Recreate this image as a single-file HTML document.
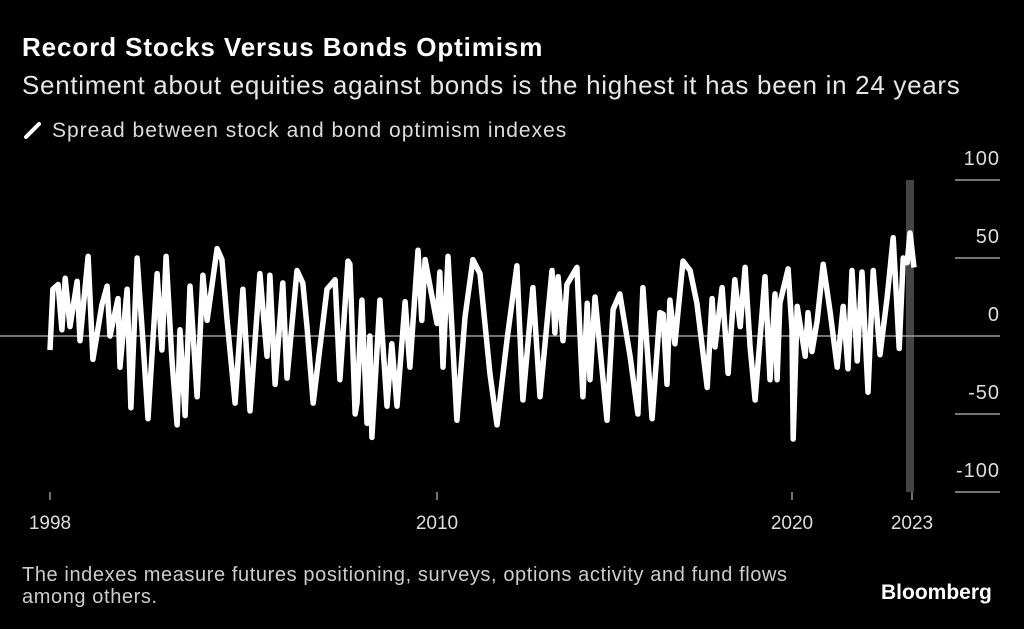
<!DOCTYPE html>
<html><head><meta charset="utf-8"><style>
html,body{margin:0;padding:0;background:#000;}
body{width:1024px;height:629px;overflow:hidden;position:relative;font-family:"Liberation Sans",sans-serif;color:#fff;}
.t{position:absolute;white-space:nowrap;}
</style></head><body>
<div class="t" style="left:22px;top:32px;font-size:26px;font-weight:bold;letter-spacing:0.9px;">Record Stocks Versus Bonds Optimism</div>
<div class="t" style="left:22px;top:70px;font-size:26px;letter-spacing:0.7px;color:#e6e6e6;">Sentiment about equities against bonds is the highest it has been in 24 years</div>
<div class="t" style="left:22px;top:119px;font-size:21px;letter-spacing:1px;color:#ddd;">
<svg width="22" height="20" style="vertical-align:-3px;margin-right:8px"><line x1="4" y1="17" x2="17" y2="4" stroke="#fff" stroke-width="4" stroke-linecap="round"/></svg>Spread between stock and bond optimism indexes</div>
<svg id="chart" width="1024" height="629" style="position:absolute;left:0;top:0"></svg>
<div class="t" style="left:22px;top:564px;font-size:20px;letter-spacing:0.6px;color:#ccc;line-height:22px;">The indexes measure futures positioning, surveys, options activity and fund flows<br>among others.</div>
<div class="t" style="left:881px;top:581px;font-size:21px;font-weight:bold;">Bloomberg</div>
<script>
const years=[1998.00,1998.09,1998.25,1998.37,1998.47,1998.62,1998.84,1998.93,1999.18,1999.33,1999.61,1999.77,1999.86,2000.11,2000.17,2000.39,2000.51,2000.70,2000.88,2001.04,2001.32,2001.47,2001.60,2001.78,2001.94,2002.03,2002.19,2002.34,2002.56,2002.74,2002.87,2003.18,2003.33,2003.49,2003.74,2003.98,2004.20,2004.51,2004.73,2004.82,2004.98,2005.22,2005.35,2005.66,2005.84,2005.97,2006.16,2006.59,2006.84,2006.99,2007.24,2007.30,2007.46,2007.52,2007.67,2007.83,2007.92,2007.98,2008.23,2008.45,2008.60,2008.76,2009.01,2009.16,2009.41,2009.53,2009.63,2010.00,2010.08,2010.17,2010.31,2010.56,2010.79,2011.01,2011.21,2011.49,2011.69,2011.97,2012.25,2012.42,2012.70,2012.90,2013.24,2013.32,2013.41,2013.55,2013.66,2013.94,2014.11,2014.23,2014.31,2014.45,2014.79,2014.96,2015.15,2015.44,2015.66,2015.80,2016.06,2016.28,2016.37,2016.48,2016.56,2016.70,2016.93,2017.13,2017.32,2017.61,2017.75,2017.83,2018.03,2018.20,2018.39,2018.54,2018.68,2018.82,2018.96,2019.24,2019.38,2019.52,2019.58,2019.66,2019.89,2020.00,2020.03,2020.13,2020.33,2020.40,2020.50,2020.63,2020.78,2020.95,2021.13,2021.28,2021.40,2021.50,2021.63,2021.75,2021.90,2022.03,2022.20,2022.38,2022.53,2022.68,2022.78,2022.88,2022.95,2023.05,2023.10];
const values=[-9,30,33,4,37,6,35,-3,51,-15,20,32,0,24,-20,30,-46,50,-3,-53,40,-9,51,-15,-57,4,-51,32,-39,39,10,56,49,10,-43,30,-48,40,-13,39,-31,34,-27,42,34,6,-43,30,36,-28,48,46,-50,-43,23,-56,0,-65,23,-45,-5,-45,22,-20,55,10,49,8,41,-20,51,-54,12,49,40,-24,-57,-3,45,-41,31,-39,42,2,38,-3,33,44,-39,21,-28,25,-54,17,27,-13,-50,31,-53,15,14,-31,23,-5,48,42,21,-33,24,-7,31,-24,36,6,44,-7,-41,38,-28,27,-28,21,43,4,-66,19,-13,15,-10,10,46,16,-20,19,-21,42,-16,41,-36,42,-12,25,63,-8,50,47,66,44];
const yTicks=[100,50,0,-50,-100];
const xTicks=[1998,2010,2020,2023];
const band=[2022.85,2023.05];
const NS='http://www.w3.org/2000/svg';
const svg=document.getElementById('chart');
const xd=[1998,2010,2020,2023], xr=[50,437,792,912];
function X(v){let i=0;if(v>xd[2])i=2;else if(v>xd[1])i=1;return xr[i]+(v-xd[i])*(xr[i+1]-xr[i])/(xd[i+1]-xd[i]);}
function Y(v){return 336-v*1.56;}
function mk(t,a){const e=document.createElementNS(NS,t);for(const k in a)e.setAttribute(k,a[k]);svg.appendChild(e);return e;}
let r=mk('rect',{x:X(band[0]),y:Y(100),width:X(band[1])-X(band[0]),height:Y(-100)-Y(100),fill:'#444'});


yTicks.forEach(v=>{
 const l=mk('line',{x1:v===0?0:955,x2:1000,y1:Y(v),y2:Y(v),stroke:'#bbb','stroke-width':1.2});
 
 
 const t=mk('text',{x:1000,y:Y(v)-15,'text-anchor':'end',fill:'#ddd','font-size':20,'letter-spacing':'1','font-family':'Liberation Sans, sans-serif'});
 t.textContent=v;
 
 
});
xTicks.forEach(v=>{
 const l=mk('line',{x1:X(v),x2:X(v),y1:492,y2:500,stroke:'#bbb','stroke-width':1.2});
 
 
 const t=mk('text',{x:X(v),y:529,'text-anchor':'middle',fill:'#ddd','font-size':19,'font-family':'Liberation Sans, sans-serif'});
 t.textContent=v;
 
 
});
const p=mk('path',{d:values.map((v,i)=>(i?'L':'M')+X(years[i]).toFixed(1)+','+Y(v).toFixed(1)).join(''),fill:'none',stroke:'#fff','stroke-width':5.5,'stroke-linejoin':'round'});


</script>
</body></html>
